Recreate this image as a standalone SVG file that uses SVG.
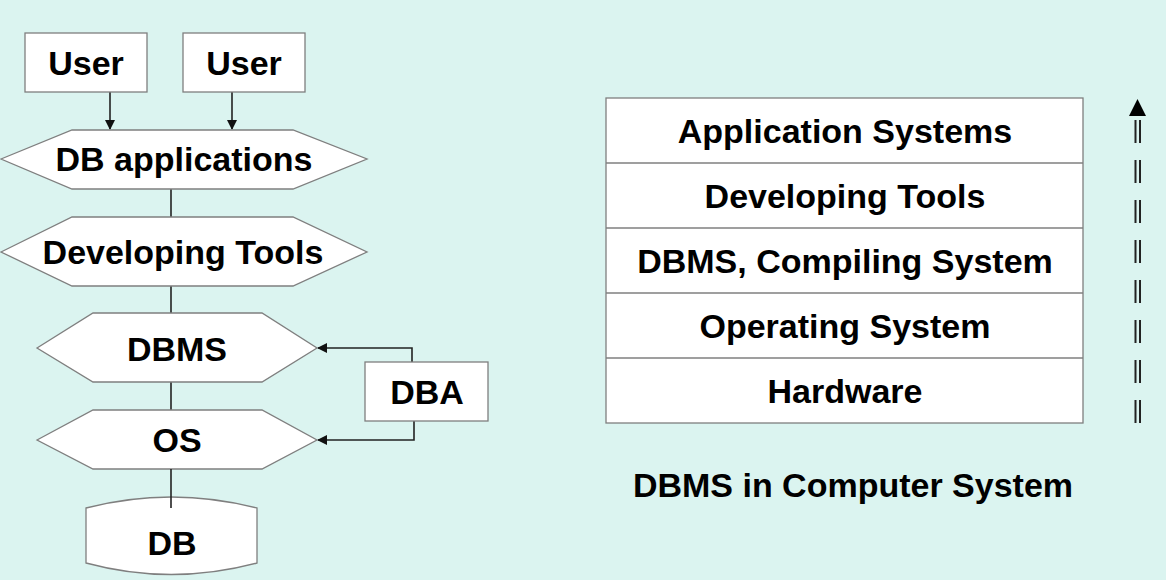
<svg xmlns="http://www.w3.org/2000/svg" width="1166" height="580" viewBox="0 0 1166 580">
<style>
.shape{fill:#ffffff;stroke:#7f7f7f;stroke-width:1.3}
.t{font-family:"Liberation Sans",Arial,sans-serif;font-weight:bold;font-size:34px;fill:#000;text-anchor:middle}
.ln{fill:none;stroke:#222;stroke-width:1.6}
</style>
<defs>
<marker id="ah" markerWidth="10" markerHeight="10" refX="9" refY="5" orient="auto" markerUnits="userSpaceOnUse">
<path d="M0,0 L10,5 L0,10 Z" fill="#111"/>
</marker>
</defs>
<rect width="1166" height="580" fill="#dbf4f0"/>

<g id="connectors">
<line class="ln" x1="110" y1="92" x2="110" y2="129" marker-end="url(#ah)"/>
<line class="ln" x1="232" y1="92" x2="232" y2="129" marker-end="url(#ah)"/>
<line class="ln" x1="171" y1="189" x2="171" y2="217"/>
<line class="ln" x1="171" y1="286" x2="171" y2="313"/>
<line class="ln" x1="171" y1="382" x2="171" y2="410"/>
<polyline class="ln" points="412,362 412,348 318,348" marker-end="url(#ah)"/>
<polyline class="ln" points="414,421 414,440 318,440" marker-end="url(#ah)"/>
</g>

<g id="user1"><rect class="shape" x="25" y="33" width="122" height="59"/><text class="t" x="86" y="75">User</text></g>
<g id="user2"><rect class="shape" x="183" y="33" width="122" height="59"/><text class="t" x="244" y="75">User</text></g>

<g id="dbapps"><polygon class="shape" points="1,159 72,130 293,130 367,159 293,189 72,189"/><text class="t" x="184" y="171">DB applications</text></g>
<g id="devtools"><polygon class="shape" points="1,252 72,217 293,217 367,252 293,286 72,286"/><text class="t" x="183" y="264">Developing Tools</text></g>
<g id="dbms"><polygon class="shape" points="37,348 93,313 262,313 317,348 262,382 93,382"/><text class="t" x="177" y="361">DBMS</text></g>
<g id="os"><polygon class="shape" points="37,440 93,410 262,410 317,440 262,469 93,469"/><text class="t" x="177" y="452">OS</text></g>
<g id="db"><path class="shape" d="M86,508 Q171,486 257,508 L257,563 Q171,586 86,563 Z"/><line class="ln" x1="171" y1="469" x2="171" y2="508"/><text class="t" x="172" y="555">DB</text></g>
<g id="dba"><rect class="shape" x="365" y="362" width="123" height="59"/><text class="t" x="427" y="404">DBA</text></g>

<g id="layers">
<rect class="shape" x="606" y="98" width="477" height="325"/>
<line class="shape" x1="606" y1="163" x2="1083" y2="163"/>
<line class="shape" x1="606" y1="228" x2="1083" y2="228"/>
<line class="shape" x1="606" y1="293" x2="1083" y2="293"/>
<line class="shape" x1="606" y1="358" x2="1083" y2="358"/>
<text class="t" x="845" y="143">Application Systems</text>
<text class="t" x="845" y="208">Developing Tools</text>
<text class="t" x="845" y="273">DBMS, Compiling System</text>
<text class="t" x="845" y="338">Operating System</text>
<text class="t" x="845" y="403">Hardware</text>
</g>

<g id="uparrow">
<line x1="1135.5" y1="120" x2="1135.5" y2="424" stroke="#222" stroke-width="2" stroke-dasharray="23 17"/>
<line x1="1140" y1="120" x2="1140" y2="424" stroke="#222" stroke-width="2" stroke-dasharray="23 17"/>
<polygon points="1137.5,99 1146,116 1129,116" fill="#000"/>
</g>

<text class="t" x="853" y="497">DBMS in Computer System</text>
</svg>
